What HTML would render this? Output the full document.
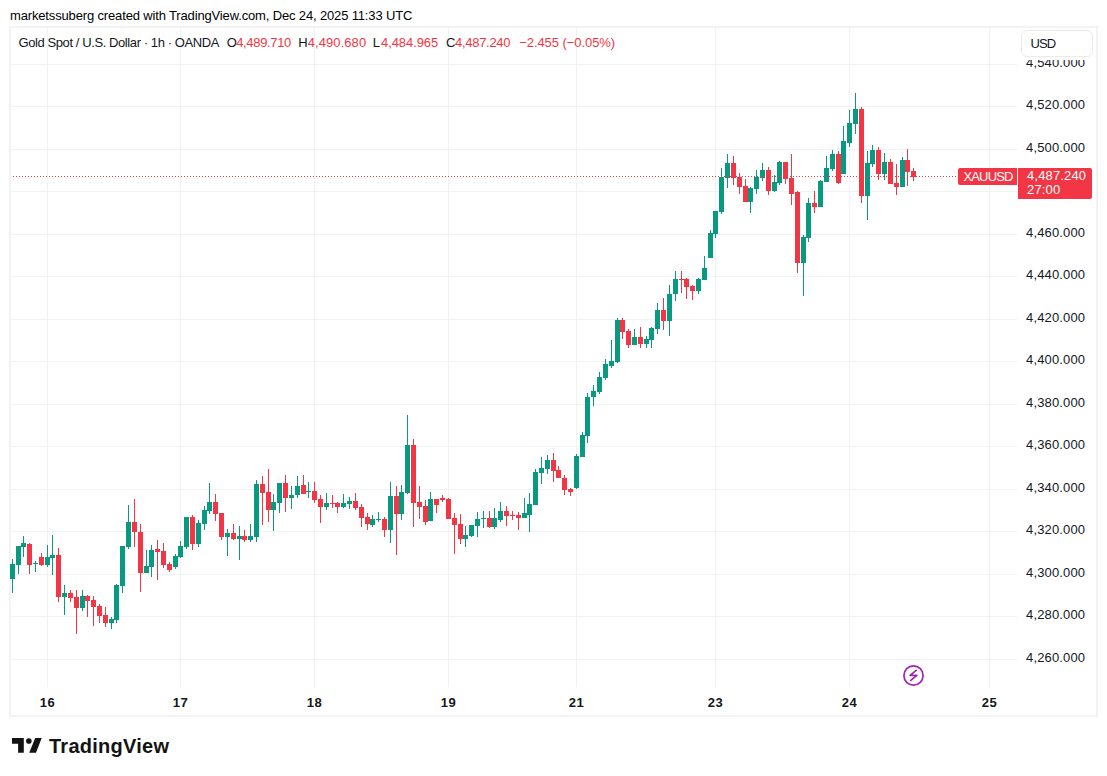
<!DOCTYPE html>
<html><head><meta charset="utf-8">
<style>
html,body{margin:0;padding:0;background:#fff;}
body{width:1107px;height:776px;position:relative;overflow:hidden;font-family:"Liberation Sans",sans-serif;color:#131722;}
.abs{position:absolute;}
#title{position:absolute;left:10px;top:8px;font-size:13px;line-height:16px;color:#000;white-space:nowrap;letter-spacing:-0.15px;}
#frame{position:absolute;left:9px;top:26px;width:1085px;height:687px;border:2px solid #f3f3f3;}
#chart{position:absolute;left:0;top:0;}
.lg{position:absolute;top:35px;font-size:13px;line-height:16px;white-space:nowrap;}
.pl{position:absolute;left:1026px;width:70px;font-size:13px;line-height:16px;text-align:left;color:#131722;white-space:nowrap;letter-spacing:0.15px;}
.tl{position:absolute;top:695px;width:40px;text-align:center;font-size:13px;font-weight:bold;line-height:16px;color:#131722;letter-spacing:0.4px;}
#usd{position:absolute;left:1021px;top:30px;width:72px;height:27px;border:1px solid #ebebeb;border-radius:6px;box-sizing:border-box;font-size:13px;line-height:25px;padding-left:8.5px;color:#131722;background:#fff;letter-spacing:-0.9px;z-index:2;}
#usdmask{position:absolute;left:1018px;top:28px;width:78px;height:32px;background:#fff;z-index:1;}
#xau{position:absolute;left:958px;top:168px;width:59px;height:17px;background:#f23645;border-radius:2px 0 0 2px;color:#fff;font-size:13px;line-height:17px;text-align:center;letter-spacing:-0.85px;padding-left:1px;box-sizing:border-box;}
#plab{position:absolute;left:1018px;top:168px;width:74px;height:31px;background:#f23645;border-radius:0 2px 2px 0;color:#fff;font-size:13px;line-height:14px;padding:1px 0 0 9px;box-sizing:border-box;letter-spacing:0.15px;}
#logo{position:absolute;left:12px;top:738px;}
#logotext{position:absolute;left:49px;top:734px;font-size:20px;font-weight:bold;line-height:24px;color:#131313;letter-spacing:0.26px;}
</style></head>
<body>
<div id="title">marketssuberg created with TradingView.com, Dec 24, 2025 11:33 UTC</div>
<div id="frame"></div>
<svg id="chart" width="1107" height="776" viewBox="0 0 1107 776" shape-rendering="crispEdges">
<rect x="10" y="64" width="1007" height="1" fill="#f1f2f2"/>
<rect x="10" y="106" width="1007" height="1" fill="#f1f2f2"/>
<rect x="10" y="149" width="1007" height="1" fill="#f1f2f2"/>
<rect x="10" y="191" width="1007" height="1" fill="#f1f2f2"/>
<rect x="10" y="234" width="1007" height="1" fill="#f1f2f2"/>
<rect x="10" y="276" width="1007" height="1" fill="#f1f2f2"/>
<rect x="10" y="319" width="1007" height="1" fill="#f1f2f2"/>
<rect x="10" y="361" width="1007" height="1" fill="#f1f2f2"/>
<rect x="10" y="404" width="1007" height="1" fill="#f1f2f2"/>
<rect x="10" y="446" width="1007" height="1" fill="#f1f2f2"/>
<rect x="10" y="489" width="1007" height="1" fill="#f1f2f2"/>
<rect x="10" y="531" width="1007" height="1" fill="#f1f2f2"/>
<rect x="10" y="574" width="1007" height="1" fill="#f1f2f2"/>
<rect x="10" y="616" width="1007" height="1" fill="#f1f2f2"/>
<rect x="10" y="659" width="1007" height="1" fill="#f1f2f2"/>
<rect x="47" y="27" width="1" height="660" fill="#f1f2f2"/>
<rect x="180" y="27" width="1" height="660" fill="#f1f2f2"/>
<rect x="314" y="27" width="1" height="660" fill="#f1f2f2"/>
<rect x="448" y="27" width="1" height="660" fill="#f1f2f2"/>
<rect x="576" y="27" width="1" height="660" fill="#f1f2f2"/>
<rect x="715" y="27" width="1" height="660" fill="#f1f2f2"/>
<rect x="849" y="27" width="1" height="660" fill="#f1f2f2"/>
<rect x="989" y="27" width="1" height="660" fill="#f1f2f2"/>
<rect x="12" y="559" width="1" height="34" fill="#089981"/>
<rect x="10" y="564" width="5" height="15" fill="#089981"/>
<rect x="18" y="546" width="1" height="28" fill="#089981"/>
<rect x="16" y="546" width="5" height="19" fill="#089981"/>
<rect x="23" y="536" width="1" height="21" fill="#089981"/>
<rect x="21" y="543" width="5" height="4" fill="#089981"/>
<rect x="29" y="543" width="1" height="31" fill="#f23645"/>
<rect x="27" y="544" width="5" height="21" fill="#f23645"/>
<rect x="35" y="561" width="1" height="11" fill="#089981"/>
<rect x="33" y="563" width="5" height="1" fill="#089981"/>
<rect x="41" y="553" width="1" height="13" fill="#f23645"/>
<rect x="39" y="557" width="5" height="8" fill="#f23645"/>
<rect x="47" y="545" width="1" height="22" fill="#089981"/>
<rect x="45" y="557" width="5" height="8" fill="#089981"/>
<rect x="52" y="535" width="1" height="40" fill="#089981"/>
<rect x="50" y="555" width="5" height="3" fill="#089981"/>
<rect x="58" y="548" width="1" height="54" fill="#f23645"/>
<rect x="56" y="555" width="5" height="42" fill="#f23645"/>
<rect x="64" y="585" width="1" height="30" fill="#089981"/>
<rect x="62" y="593" width="5" height="4" fill="#089981"/>
<rect x="70" y="590" width="1" height="12" fill="#f23645"/>
<rect x="68" y="593" width="5" height="5" fill="#f23645"/>
<rect x="76" y="590" width="1" height="44" fill="#f23645"/>
<rect x="74" y="597" width="5" height="11" fill="#f23645"/>
<rect x="82" y="590" width="1" height="21" fill="#089981"/>
<rect x="80" y="596" width="5" height="12" fill="#089981"/>
<rect x="87" y="595" width="1" height="22" fill="#f23645"/>
<rect x="85" y="596" width="5" height="5" fill="#f23645"/>
<rect x="93" y="596" width="1" height="30" fill="#f23645"/>
<rect x="91" y="600" width="5" height="7" fill="#f23645"/>
<rect x="99" y="604" width="1" height="19" fill="#f23645"/>
<rect x="97" y="606" width="5" height="10" fill="#f23645"/>
<rect x="105" y="607" width="1" height="20" fill="#f23645"/>
<rect x="103" y="615" width="5" height="8" fill="#f23645"/>
<rect x="111" y="617" width="1" height="12" fill="#089981"/>
<rect x="109" y="619" width="5" height="4" fill="#089981"/>
<rect x="116" y="584" width="1" height="39" fill="#089981"/>
<rect x="114" y="585" width="5" height="35" fill="#089981"/>
<rect x="122" y="546" width="1" height="47" fill="#089981"/>
<rect x="120" y="546" width="5" height="40" fill="#089981"/>
<rect x="128" y="505" width="1" height="44" fill="#089981"/>
<rect x="126" y="522" width="5" height="25" fill="#089981"/>
<rect x="134" y="499" width="1" height="48" fill="#f23645"/>
<rect x="132" y="522" width="5" height="10" fill="#f23645"/>
<rect x="140" y="524" width="1" height="68" fill="#f23645"/>
<rect x="138" y="532" width="5" height="41" fill="#f23645"/>
<rect x="146" y="550" width="1" height="23" fill="#089981"/>
<rect x="144" y="566" width="5" height="7" fill="#089981"/>
<rect x="151" y="545" width="1" height="32" fill="#089981"/>
<rect x="149" y="550" width="5" height="17" fill="#089981"/>
<rect x="157" y="540" width="1" height="40" fill="#f23645"/>
<rect x="155" y="549" width="5" height="3" fill="#f23645"/>
<rect x="163" y="543" width="1" height="25" fill="#f23645"/>
<rect x="161" y="551" width="5" height="14" fill="#f23645"/>
<rect x="169" y="562" width="1" height="10" fill="#f23645"/>
<rect x="167" y="564" width="5" height="6" fill="#f23645"/>
<rect x="175" y="554" width="1" height="15" fill="#089981"/>
<rect x="173" y="556" width="5" height="11" fill="#089981"/>
<rect x="180" y="541" width="1" height="17" fill="#089981"/>
<rect x="178" y="546" width="5" height="11" fill="#089981"/>
<rect x="186" y="517" width="1" height="32" fill="#089981"/>
<rect x="184" y="517" width="5" height="30" fill="#089981"/>
<rect x="192" y="515" width="1" height="35" fill="#f23645"/>
<rect x="190" y="517" width="5" height="27" fill="#f23645"/>
<rect x="198" y="520" width="1" height="27" fill="#089981"/>
<rect x="196" y="523" width="5" height="21" fill="#089981"/>
<rect x="204" y="506" width="1" height="24" fill="#089981"/>
<rect x="202" y="510" width="5" height="14" fill="#089981"/>
<rect x="209" y="483" width="1" height="31" fill="#089981"/>
<rect x="207" y="502" width="5" height="9" fill="#089981"/>
<rect x="215" y="494" width="1" height="27" fill="#f23645"/>
<rect x="213" y="502" width="5" height="12" fill="#f23645"/>
<rect x="221" y="513" width="1" height="27" fill="#f23645"/>
<rect x="219" y="513" width="5" height="24" fill="#f23645"/>
<rect x="227" y="529" width="1" height="27" fill="#089981"/>
<rect x="225" y="533" width="5" height="4" fill="#089981"/>
<rect x="233" y="524" width="1" height="16" fill="#f23645"/>
<rect x="231" y="533" width="5" height="6" fill="#f23645"/>
<rect x="239" y="526" width="1" height="34" fill="#089981"/>
<rect x="237" y="536" width="5" height="3" fill="#089981"/>
<rect x="244" y="530" width="1" height="12" fill="#f23645"/>
<rect x="242" y="536" width="5" height="4" fill="#f23645"/>
<rect x="250" y="524" width="1" height="18" fill="#089981"/>
<rect x="248" y="536" width="5" height="4" fill="#089981"/>
<rect x="256" y="480" width="1" height="62" fill="#089981"/>
<rect x="254" y="484" width="5" height="53" fill="#089981"/>
<rect x="262" y="476" width="1" height="49" fill="#f23645"/>
<rect x="260" y="484" width="5" height="9" fill="#f23645"/>
<rect x="268" y="469" width="1" height="53" fill="#f23645"/>
<rect x="266" y="492" width="5" height="18" fill="#f23645"/>
<rect x="273" y="494" width="1" height="37" fill="#089981"/>
<rect x="271" y="502" width="5" height="8" fill="#089981"/>
<rect x="279" y="483" width="1" height="30" fill="#089981"/>
<rect x="277" y="483" width="5" height="20" fill="#089981"/>
<rect x="285" y="475" width="1" height="37" fill="#f23645"/>
<rect x="283" y="483" width="5" height="15" fill="#f23645"/>
<rect x="291" y="486" width="1" height="23" fill="#089981"/>
<rect x="289" y="495" width="5" height="3" fill="#089981"/>
<rect x="297" y="476" width="1" height="22" fill="#089981"/>
<rect x="295" y="486" width="5" height="9" fill="#089981"/>
<rect x="303" y="475" width="1" height="19" fill="#f23645"/>
<rect x="301" y="485" width="5" height="9" fill="#f23645"/>
<rect x="308" y="482" width="1" height="16" fill="#089981"/>
<rect x="306" y="491" width="5" height="1" fill="#089981"/>
<rect x="314" y="482" width="1" height="21" fill="#f23645"/>
<rect x="312" y="491" width="5" height="9" fill="#f23645"/>
<rect x="320" y="495" width="1" height="28" fill="#f23645"/>
<rect x="318" y="499" width="5" height="8" fill="#f23645"/>
<rect x="326" y="493" width="1" height="17" fill="#089981"/>
<rect x="324" y="503" width="5" height="4" fill="#089981"/>
<rect x="332" y="495" width="1" height="13" fill="#f23645"/>
<rect x="330" y="503" width="5" height="1" fill="#f23645"/>
<rect x="337" y="502" width="1" height="11" fill="#f23645"/>
<rect x="335" y="503" width="5" height="4" fill="#f23645"/>
<rect x="343" y="494" width="1" height="14" fill="#089981"/>
<rect x="341" y="503" width="5" height="4" fill="#089981"/>
<rect x="349" y="497" width="1" height="12" fill="#089981"/>
<rect x="347" y="501" width="5" height="3" fill="#089981"/>
<rect x="355" y="493" width="1" height="17" fill="#f23645"/>
<rect x="353" y="501" width="5" height="7" fill="#f23645"/>
<rect x="361" y="504" width="1" height="23" fill="#f23645"/>
<rect x="359" y="507" width="5" height="11" fill="#f23645"/>
<rect x="367" y="513" width="1" height="17" fill="#f23645"/>
<rect x="365" y="517" width="5" height="7" fill="#f23645"/>
<rect x="372" y="515" width="1" height="12" fill="#089981"/>
<rect x="370" y="519" width="5" height="6" fill="#089981"/>
<rect x="378" y="512" width="1" height="10" fill="#089981"/>
<rect x="376" y="519" width="5" height="1" fill="#089981"/>
<rect x="384" y="517" width="1" height="20" fill="#f23645"/>
<rect x="382" y="519" width="5" height="11" fill="#f23645"/>
<rect x="390" y="482" width="1" height="61" fill="#089981"/>
<rect x="388" y="496" width="5" height="34" fill="#089981"/>
<rect x="396" y="486" width="1" height="69" fill="#f23645"/>
<rect x="394" y="496" width="5" height="18" fill="#f23645"/>
<rect x="401" y="485" width="1" height="35" fill="#089981"/>
<rect x="399" y="492" width="5" height="22" fill="#089981"/>
<rect x="407" y="415" width="1" height="79" fill="#089981"/>
<rect x="405" y="445" width="5" height="48" fill="#089981"/>
<rect x="413" y="439" width="1" height="88" fill="#f23645"/>
<rect x="411" y="445" width="5" height="58" fill="#f23645"/>
<rect x="419" y="486" width="1" height="33" fill="#f23645"/>
<rect x="417" y="502" width="5" height="5" fill="#f23645"/>
<rect x="425" y="500" width="1" height="25" fill="#f23645"/>
<rect x="423" y="506" width="5" height="16" fill="#f23645"/>
<rect x="430" y="492" width="1" height="29" fill="#089981"/>
<rect x="428" y="499" width="5" height="22" fill="#089981"/>
<rect x="436" y="499" width="1" height="14" fill="#f23645"/>
<rect x="434" y="499" width="5" height="6" fill="#f23645"/>
<rect x="442" y="495" width="1" height="7" fill="#f23645"/>
<rect x="440" y="498" width="5" height="2" fill="#f23645"/>
<rect x="448" y="498" width="1" height="21" fill="#f23645"/>
<rect x="446" y="499" width="5" height="20" fill="#f23645"/>
<rect x="454" y="513" width="1" height="41" fill="#f23645"/>
<rect x="452" y="518" width="5" height="7" fill="#f23645"/>
<rect x="460" y="514" width="1" height="30" fill="#f23645"/>
<rect x="458" y="524" width="5" height="15" fill="#f23645"/>
<rect x="465" y="526" width="1" height="21" fill="#089981"/>
<rect x="463" y="535" width="5" height="4" fill="#089981"/>
<rect x="471" y="525" width="1" height="12" fill="#089981"/>
<rect x="469" y="525" width="5" height="11" fill="#089981"/>
<rect x="477" y="512" width="1" height="25" fill="#089981"/>
<rect x="475" y="519" width="5" height="7" fill="#089981"/>
<rect x="483" y="511" width="1" height="17" fill="#089981"/>
<rect x="481" y="518" width="5" height="1" fill="#089981"/>
<rect x="489" y="511" width="1" height="17" fill="#f23645"/>
<rect x="487" y="518" width="5" height="9" fill="#f23645"/>
<rect x="494" y="508" width="1" height="21" fill="#089981"/>
<rect x="492" y="518" width="5" height="9" fill="#089981"/>
<rect x="500" y="502" width="1" height="20" fill="#089981"/>
<rect x="498" y="511" width="5" height="9" fill="#089981"/>
<rect x="506" y="506" width="1" height="20" fill="#f23645"/>
<rect x="504" y="511" width="5" height="5" fill="#f23645"/>
<rect x="512" y="511" width="1" height="9" fill="#f23645"/>
<rect x="510" y="515" width="5" height="1" fill="#f23645"/>
<rect x="518" y="512" width="1" height="18" fill="#f23645"/>
<rect x="516" y="515" width="5" height="3" fill="#f23645"/>
<rect x="524" y="498" width="1" height="20" fill="#089981"/>
<rect x="522" y="513" width="5" height="5" fill="#089981"/>
<rect x="529" y="493" width="1" height="39" fill="#089981"/>
<rect x="527" y="504" width="5" height="11" fill="#089981"/>
<rect x="535" y="469" width="1" height="36" fill="#089981"/>
<rect x="533" y="472" width="5" height="33" fill="#089981"/>
<rect x="541" y="457" width="1" height="27" fill="#089981"/>
<rect x="539" y="468" width="5" height="5" fill="#089981"/>
<rect x="547" y="455" width="1" height="19" fill="#089981"/>
<rect x="545" y="460" width="5" height="9" fill="#089981"/>
<rect x="553" y="453" width="1" height="29" fill="#f23645"/>
<rect x="551" y="460" width="5" height="11" fill="#f23645"/>
<rect x="558" y="466" width="1" height="12" fill="#f23645"/>
<rect x="556" y="470" width="5" height="8" fill="#f23645"/>
<rect x="564" y="475" width="1" height="20" fill="#f23645"/>
<rect x="562" y="478" width="5" height="12" fill="#f23645"/>
<rect x="570" y="488" width="1" height="8" fill="#f23645"/>
<rect x="568" y="489" width="5" height="3" fill="#f23645"/>
<rect x="576" y="454" width="1" height="35" fill="#089981"/>
<rect x="574" y="456" width="5" height="32" fill="#089981"/>
<rect x="582" y="432" width="1" height="25" fill="#089981"/>
<rect x="580" y="435" width="5" height="22" fill="#089981"/>
<rect x="587" y="393" width="1" height="50" fill="#089981"/>
<rect x="585" y="397" width="5" height="39" fill="#089981"/>
<rect x="593" y="385" width="1" height="21" fill="#089981"/>
<rect x="591" y="391" width="5" height="6" fill="#089981"/>
<rect x="599" y="372" width="1" height="22" fill="#089981"/>
<rect x="597" y="377" width="5" height="15" fill="#089981"/>
<rect x="605" y="359" width="1" height="21" fill="#089981"/>
<rect x="603" y="364" width="5" height="14" fill="#089981"/>
<rect x="611" y="340" width="1" height="28" fill="#089981"/>
<rect x="609" y="361" width="5" height="5" fill="#089981"/>
<rect x="617" y="318" width="1" height="45" fill="#089981"/>
<rect x="615" y="320" width="5" height="42" fill="#089981"/>
<rect x="622" y="318" width="1" height="21" fill="#f23645"/>
<rect x="620" y="320" width="5" height="12" fill="#f23645"/>
<rect x="628" y="329" width="1" height="19" fill="#f23645"/>
<rect x="626" y="331" width="5" height="14" fill="#f23645"/>
<rect x="634" y="329" width="1" height="16" fill="#089981"/>
<rect x="632" y="337" width="5" height="8" fill="#089981"/>
<rect x="640" y="327" width="1" height="21" fill="#f23645"/>
<rect x="638" y="337" width="5" height="7" fill="#f23645"/>
<rect x="646" y="336" width="1" height="12" fill="#089981"/>
<rect x="644" y="339" width="5" height="5" fill="#089981"/>
<rect x="651" y="327" width="1" height="21" fill="#089981"/>
<rect x="649" y="328" width="5" height="12" fill="#089981"/>
<rect x="657" y="303" width="1" height="31" fill="#089981"/>
<rect x="655" y="310" width="5" height="19" fill="#089981"/>
<rect x="663" y="298" width="1" height="32" fill="#f23645"/>
<rect x="661" y="310" width="5" height="11" fill="#f23645"/>
<rect x="669" y="285" width="1" height="51" fill="#089981"/>
<rect x="667" y="294" width="5" height="27" fill="#089981"/>
<rect x="675" y="271" width="1" height="30" fill="#089981"/>
<rect x="673" y="279" width="5" height="15" fill="#089981"/>
<rect x="681" y="271" width="1" height="22" fill="#f23645"/>
<rect x="679" y="279" width="5" height="1" fill="#f23645"/>
<rect x="686" y="278" width="1" height="21" fill="#f23645"/>
<rect x="684" y="279" width="5" height="8" fill="#f23645"/>
<rect x="692" y="285" width="1" height="15" fill="#f23645"/>
<rect x="690" y="286" width="5" height="5" fill="#f23645"/>
<rect x="698" y="278" width="1" height="16" fill="#089981"/>
<rect x="696" y="279" width="5" height="12" fill="#089981"/>
<rect x="704" y="256" width="1" height="24" fill="#089981"/>
<rect x="702" y="268" width="5" height="12" fill="#089981"/>
<rect x="710" y="230" width="1" height="28" fill="#089981"/>
<rect x="708" y="233" width="5" height="25" fill="#089981"/>
<rect x="715" y="211" width="1" height="27" fill="#089981"/>
<rect x="713" y="211" width="5" height="23" fill="#089981"/>
<rect x="721" y="168" width="1" height="46" fill="#089981"/>
<rect x="719" y="177" width="5" height="35" fill="#089981"/>
<rect x="727" y="154" width="1" height="34" fill="#089981"/>
<rect x="725" y="163" width="5" height="15" fill="#089981"/>
<rect x="733" y="156" width="1" height="29" fill="#f23645"/>
<rect x="731" y="163" width="5" height="15" fill="#f23645"/>
<rect x="739" y="173" width="1" height="21" fill="#f23645"/>
<rect x="737" y="177" width="5" height="10" fill="#f23645"/>
<rect x="745" y="179" width="1" height="23" fill="#f23645"/>
<rect x="743" y="186" width="5" height="16" fill="#f23645"/>
<rect x="750" y="187" width="1" height="26" fill="#089981"/>
<rect x="748" y="188" width="5" height="14" fill="#089981"/>
<rect x="756" y="170" width="1" height="24" fill="#089981"/>
<rect x="754" y="177" width="5" height="12" fill="#089981"/>
<rect x="762" y="163" width="1" height="18" fill="#089981"/>
<rect x="760" y="170" width="5" height="8" fill="#089981"/>
<rect x="768" y="167" width="1" height="28" fill="#f23645"/>
<rect x="766" y="170" width="5" height="21" fill="#f23645"/>
<rect x="774" y="175" width="1" height="17" fill="#089981"/>
<rect x="772" y="182" width="5" height="9" fill="#089981"/>
<rect x="779" y="161" width="1" height="24" fill="#089981"/>
<rect x="777" y="162" width="5" height="21" fill="#089981"/>
<rect x="785" y="162" width="1" height="22" fill="#f23645"/>
<rect x="783" y="162" width="5" height="17" fill="#f23645"/>
<rect x="791" y="154" width="1" height="51" fill="#f23645"/>
<rect x="789" y="178" width="5" height="16" fill="#f23645"/>
<rect x="797" y="191" width="1" height="82" fill="#f23645"/>
<rect x="795" y="192" width="5" height="71" fill="#f23645"/>
<rect x="803" y="235" width="1" height="61" fill="#089981"/>
<rect x="801" y="237" width="5" height="26" fill="#089981"/>
<rect x="808" y="198" width="1" height="44" fill="#089981"/>
<rect x="806" y="203" width="5" height="35" fill="#089981"/>
<rect x="814" y="191" width="1" height="22" fill="#f23645"/>
<rect x="812" y="203" width="5" height="4" fill="#f23645"/>
<rect x="820" y="180" width="1" height="27" fill="#089981"/>
<rect x="818" y="181" width="5" height="26" fill="#089981"/>
<rect x="826" y="156" width="1" height="26" fill="#089981"/>
<rect x="824" y="168" width="5" height="14" fill="#089981"/>
<rect x="832" y="150" width="1" height="21" fill="#089981"/>
<rect x="830" y="154" width="5" height="15" fill="#089981"/>
<rect x="838" y="151" width="1" height="33" fill="#f23645"/>
<rect x="836" y="154" width="5" height="29" fill="#f23645"/>
<rect x="843" y="126" width="1" height="48" fill="#089981"/>
<rect x="841" y="141" width="5" height="33" fill="#089981"/>
<rect x="849" y="110" width="1" height="37" fill="#089981"/>
<rect x="847" y="123" width="5" height="20" fill="#089981"/>
<rect x="855" y="93" width="1" height="41" fill="#089981"/>
<rect x="853" y="109" width="5" height="15" fill="#089981"/>
<rect x="861" y="107" width="1" height="96" fill="#f23645"/>
<rect x="859" y="109" width="5" height="87" fill="#f23645"/>
<rect x="867" y="151" width="1" height="69" fill="#089981"/>
<rect x="865" y="163" width="5" height="33" fill="#089981"/>
<rect x="872" y="145" width="1" height="22" fill="#089981"/>
<rect x="870" y="150" width="5" height="14" fill="#089981"/>
<rect x="878" y="147" width="1" height="33" fill="#f23645"/>
<rect x="876" y="150" width="5" height="24" fill="#f23645"/>
<rect x="884" y="153" width="1" height="27" fill="#089981"/>
<rect x="882" y="162" width="5" height="12" fill="#089981"/>
<rect x="890" y="159" width="1" height="25" fill="#f23645"/>
<rect x="888" y="162" width="5" height="22" fill="#f23645"/>
<rect x="896" y="164" width="1" height="31" fill="#f23645"/>
<rect x="894" y="183" width="5" height="4" fill="#f23645"/>
<rect x="902" y="157" width="1" height="30" fill="#089981"/>
<rect x="900" y="160" width="5" height="27" fill="#089981"/>
<rect x="907" y="149" width="1" height="37" fill="#f23645"/>
<rect x="905" y="160" width="5" height="12" fill="#f23645"/>
<rect x="913" y="168" width="1" height="13" fill="#f23645"/>
<rect x="911" y="171" width="5" height="6" fill="#f23645"/>
<defs><pattern id="dots" x="1" y="0" width="3" height="776" patternUnits="userSpaceOnUse"><rect x="0" y="176" width="1" height="1" fill="#f23645"/></pattern></defs>
<rect x="11" y="176" width="946" height="1" fill="url(#dots)"/>
</svg>
<div class="lg" style="left:18.50px;color:#131722;letter-spacing:-0.411px">Gold Spot / U.S. Dollar · 1h · OANDA</div>
<div class="lg" style="left:226.70px;color:#131722;letter-spacing:0.000px">O</div>
<div class="lg" style="left:236.20px;color:#f23645;letter-spacing:-0.338px">4,489.710</div>
<div class="lg" style="left:298.30px;color:#131722;letter-spacing:0.000px">H</div>
<div class="lg" style="left:307.80px;color:#f23645;letter-spacing:0.062px">4,490.680</div>
<div class="lg" style="left:372.70px;color:#131722;letter-spacing:0.000px">L</div>
<div class="lg" style="left:381.00px;color:#f23645;letter-spacing:-0.075px">4,484.965</div>
<div class="lg" style="left:446.00px;color:#131722;letter-spacing:0.000px">C</div>
<div class="lg" style="left:455.00px;color:#f23645;letter-spacing:-0.287px">4,487.240</div>
<div class="lg" style="left:519.20px;color:#f23645;letter-spacing:-0.064px">−2.455 (−0.05%)</div>
<div class="pl" style="top:55px">4,540.000</div>
<div class="pl" style="top:97px">4,520.000</div>
<div class="pl" style="top:140px">4,500.000</div>
<div class="pl" style="top:225px">4,460.000</div>
<div class="pl" style="top:267px">4,440.000</div>
<div class="pl" style="top:310px">4,420.000</div>
<div class="pl" style="top:352px">4,400.000</div>
<div class="pl" style="top:395px">4,380.000</div>
<div class="pl" style="top:437px">4,360.000</div>
<div class="pl" style="top:480px">4,340.000</div>
<div class="pl" style="top:522px">4,320.000</div>
<div class="pl" style="top:565px">4,300.000</div>
<div class="pl" style="top:607px">4,280.000</div>
<div class="pl" style="top:650px">4,260.000</div>
<div id="usdmask"></div><div id="usd">USD</div>
<div id="xau">XAUUSD</div>
<div id="plab">4,487.240<br>27:00</div>
<div class="tl" style="left:27.5px">16</div>
<div class="tl" style="left:160.5px">17</div>
<div class="tl" style="left:294.5px">18</div>
<div class="tl" style="left:428.5px">19</div>
<div class="tl" style="left:556.5px">21</div>
<div class="tl" style="left:695.5px">23</div>
<div class="tl" style="left:829.5px">24</div>
<div class="tl" style="left:969.5px">25</div>
<svg class="abs" style="left:901px;top:663px" width="25" height="25" viewBox="0 0 25 25">
<circle cx="12.5" cy="12.5" r="9.6" fill="none" stroke="#9c27b0" stroke-width="1.7"/>
<path d="M15.2 7.4 L9.1 12.4 L15.8 12.4 L9.8 17.4" fill="none" stroke="#9c27b0" stroke-width="1.7" stroke-linejoin="round" stroke-linecap="round"/>
</svg>
<svg id="logo" width="32" height="16" viewBox="0 0 32 16">
<path d="M0 0 H11.8 V14.8 H6.1 V5.7 H0 Z" fill="#131313"/>
<circle cx="16.85" cy="2.95" r="2.8" fill="#131313"/>
<path d="M23.2 0 H29.7 L24 14.8 H17.2 Z" fill="#131313"/>
</svg>
<div id="logotext">TradingView</div>
</body></html>
